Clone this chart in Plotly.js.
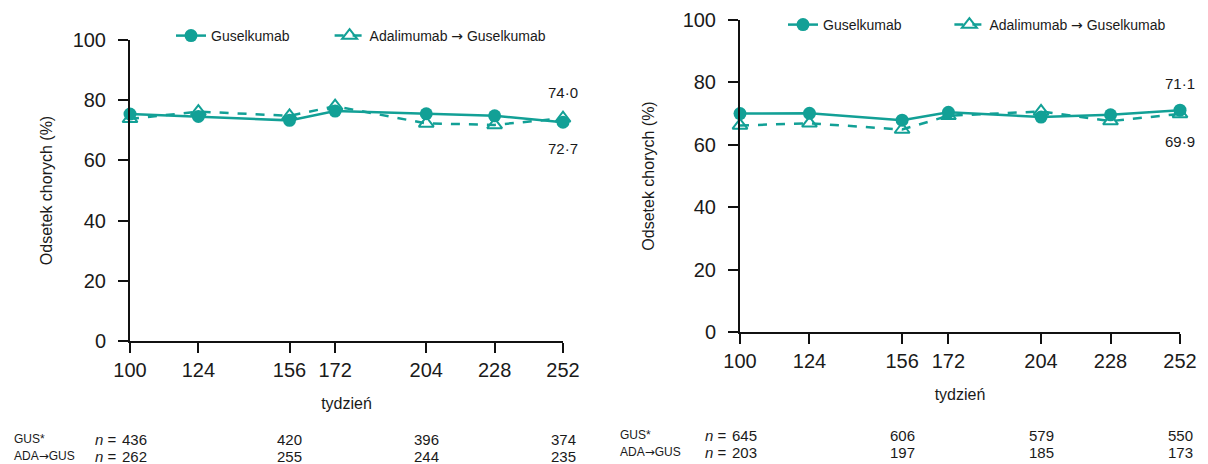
<!DOCTYPE html>
<html><head><meta charset="utf-8">
<script src="https://cdn.plot.ly/plotly-3.0.1.min.js"></script>
<style>html,body{margin:0;padding:0;background:#fff}#c{width:1208px;height:464px}</style>
</head><body><div id="c"></div>
<script>
const weeks = [100,124,156,172,204,228,252];
const gusLeft = [75.4,74.6,73.3,76.4,75.5,74.8,72.7];
const adaLeft = [73.8,76.2,74.8,78.0,72.3,71.8,74.0];
const gusRight = [70.0,70.1,67.9,70.4,68.9,69.6,71.1];
const adaRight = [66.2,66.9,64.9,69.3,70.7,67.6,69.9];
const tableWeeks = [100,156,204,252];
const nGusLeft = [436,420,396,374];
const nAdaLeft = [262,255,244,235];
const nGusRight = [645,606,579,550];
const nAdaRight = [203,197,185,173];
const arrow = '<span style="font-family:DejaVu Sans">\u2192</span>';
const rowLabels = ["GUS*","ADA"+arrow+"GUS"];
const legendNames = ["Guselkumab","Adalimumab "+arrow+" Guselkumab"];
const xTitle = "tydzie\u0144";
const yTitle = "Odsetek chorych (%)";

const teal = "#12a096";
const font = "Liberation Sans, Arial, sans-serif";
const ink = "#1a1a1a";

function gus(y, xa, ya, lg, pad){
  return {x:weeks,y:y,xaxis:xa,yaxis:ya,type:'scatter',mode:'lines+markers',name:legendNames[0]+'\u00a0'.repeat(pad),
    legend:lg,legendrank:1,cliponaxis:false,
    line:{color:teal,width:2.5},marker:{symbol:'circle',size:13,color:teal}};
}
function ada(y, xa, ya, lg){
  return {x:weeks,y:y,xaxis:xa,yaxis:ya,type:'scatter',mode:'lines+markers',name:legendNames[1],
    legend:lg,legendrank:2,cliponaxis:false,
    line:{color:teal,width:2.5,dash:'dash'},marker:{symbol:'triangle-up-open',size:13,color:teal,line:{width:2,color:teal}}};
}
const data = [
  ada(adaLeft,'x','y','legend'), gus(gusLeft,'x','y','legend',9),
  ada(adaRight,'x2','y2','legend2'), gus(gusRight,'x2','y2','legend2',11)
];

function xa(dom, anchor, so){
  return {domain:dom,anchor:anchor,range:[100,252],tickvals:weeks,ticktext:weeks.map(String),
    showgrid:false,zeroline:false,showline:true,linecolor:'#111',linewidth:2,
    ticks:'outside',ticklen:10,tickwidth:2,tickcolor:'#111',
    tickfont:{family:font,size:20,color:ink},
    title:{text:xTitle,font:{family:font,size:16,color:ink},standoff:so}};
}
function ya(dom, anchor, so){
  return {domain:dom,anchor:anchor,range:[0,100],tickvals:[0,20,40,60,80,100],
    showgrid:false,zeroline:false,showline:true,linecolor:'#111',linewidth:2,
    ticks:'outside',ticklen:10,tickwidth:2,tickcolor:'#111',ticklabelstandoff:8,
    tickfont:{family:font,size:20,color:ink},
    title:{text:yTitle,font:{family:font,size:16,color:ink},standoff:so}};
}
const W=1208,H=464;
const ann=[];
function addTable(xref, g, a, yTop, xLab){
  [g,a].forEach((arr,r)=>{
    const yp = 1-(yTop+r*17)/H;
    ann.push({xref:'paper',yref:'paper',x:xLab/W,y:yp,xanchor:'left',yanchor:'middle',
      text:rowLabels[r],showarrow:false,font:{family:font,size:12,color:ink}});
    arr.forEach((v,i)=>{
      ann.push({xref:xref,yref:'paper',x:tableWeeks[i],y:yp,xanchor:'center',yanchor:'middle',xshift:i===0?4:0,
        text:String(v),showarrow:false,font:{family:font,size:15,color:ink}});
    });
    ann.push({xref:xref,yref:'paper',x:tableWeeks[0],y:yp,xanchor:'right',yanchor:'middle',xshift:-11,
      text:'<i>n</i> =',showarrow:false,font:{family:font,size:15,color:ink}});
  });
}
addTable('x',nGusLeft,nAdaLeft,439,12);
addTable('x2',nGusRight,nAdaRight,435,618);
function fmt(v){return v.toFixed(1).replace('.','\u00b7');}
function lab(xr,yr,v,sh){ann.push({xref:xr,yref:yr,x:252,y:v,yshift:sh,text:fmt(v),showarrow:false,font:{family:font,size:15,color:ink}});}
lab('x','y',adaLeft[6],26); lab('x','y',gusLeft[6],-26);
lab('x2','y2',gusRight[6],27); lab('x2','y2',adaRight[6],-28);

const layout = {
  width:W,height:H,margin:{l:0,r:0,t:0,b:0},paper_bgcolor:'#fff',plot_bgcolor:'#fff',
  xaxis:xa([130/W,563/W],'y',18), yaxis:ya([1-341/H,1-40/H],'x',16),
  xaxis2:xa([740/W,1180/W],'y2',18), yaxis2:ya([1-332/H,1-20/H],'x2',24),
  legend:{x:171/W,y:1-20/H,xanchor:'left',yanchor:'top',orientation:'h',font:{family:font,size:14,color:ink},bgcolor:'rgba(0,0,0,0)'},
  legend2:{x:783/W,y:1-9/H,xanchor:'left',yanchor:'top',orientation:'h',font:{family:font,size:14,color:ink},bgcolor:'rgba(0,0,0,0)'},
  annotations:ann, showlegend:true
};
Plotly.newPlot('c',data,layout,{displayModeBar:false,staticPlot:true});
</script></body></html>
